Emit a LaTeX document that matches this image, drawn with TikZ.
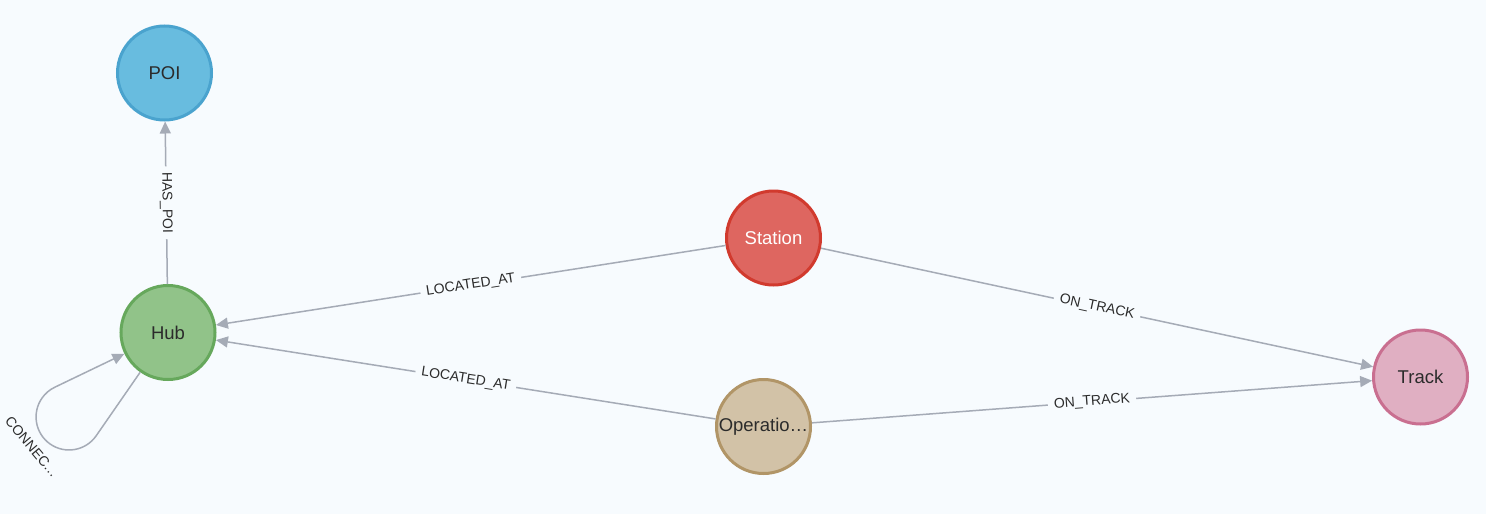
\documentclass[tikz,border=0pt]{standalone}
\usepackage{fontspec}
\setmainfont{Liberation Sans}
\usetikzlibrary{arrows.meta}
\definecolor{pagebg}{HTML}{F7FBFE}
\definecolor{relgray}{HTML}{A5ABB6}
\definecolor{inkdark}{HTML}{2B2B2B}
\definecolor{poifill}{HTML}{68BCDF}
\definecolor{poiline}{HTML}{4AA3CE}
\definecolor{hubfill}{HTML}{91C389}
\definecolor{hubline}{HTML}{66A85C}
\definecolor{stationfill}{HTML}{DE6660}
\definecolor{stationline}{HTML}{D13A2E}
\definecolor{opfill}{HTML}{D2C2A7}
\definecolor{opline}{HTML}{B19567}
\definecolor{trackfill}{HTML}{E0AFC2}
\definecolor{trackline}{HTML}{C96F90}

\begin{document}
\begin{tikzpicture}[x=1pt, y=1pt, >={Triangle[length=12pt,width=11pt]},
    entity/.style={circle, draw, line width=3pt, minimum size=94pt,
        inner sep=0pt, text=inkdark, font=\fontsize{18.5}{22}\selectfont},
    rel/.style={->, draw=relgray, line width=1.5pt},
    rellabel/.style={sloped, fill=pagebg, text=inkdark, inner xsep=6pt,
        inner ysep=2pt, font=\fontsize{14}{16}\selectfont}
]
    % Canvas
    \fill[pagebg] (0,0) rectangle (1486,-514);
    \useasboundingbox (0,0) rectangle (1486,-514);
    % Entities
    \node [entity,
        fill=poifill,
        draw=poiline
    ] (POI) at (164.5,-73) {POI};
    \node [entity,
        fill=hubfill,
        draw=hubline
    ] (Hub) at (168,-332.5) {Hub};
    \node [entity,
        fill=stationfill,
        draw=stationline,
        text=white
    ] (Station) at (773.5,-238) {Station};
    \node [entity,
        fill=opfill,
        draw=opline
    ] (Operation) at (763.5,-426.5) {Operatio…};
    \node [entity,
        fill=trackfill,
        draw=trackline
    ] (Track) at (1420.5,-377) {Track};
    % Relationships with text label
    \draw[rel] (Hub) -- (POI)
    node[midway, rellabel]{HAS\_POI};
    \draw[rel] (Station) -- (Hub)
    node[midway, rellabel]{LOCATED\_AT};
    \draw[rel] (Operation) -- (Hub)
    node[midway, rellabel]{LOCATED\_AT};
    \draw[rel] (Station) -- (Track)
    node[midway, rellabel]{ON\_TRACK};
    \draw[rel] (Operation) -- (Track)
    node[midway, rellabel]{ON\_TRACK};
    % Self loop
    \coordinate (LoopTurn) at (96.1,-435.9);
    \draw[rel] (Hub.235) -- (LoopTurn)
        arc[start angle=-35, end angle=-244.4, radius=33] -- (Hub.206);
    \node[rotate=-50, text=inkdark, font=\fontsize{14}{16}\selectfont]
        (LoopLabel) at (32,-447) {CONNEC…};

\end{tikzpicture}
\end{document}
